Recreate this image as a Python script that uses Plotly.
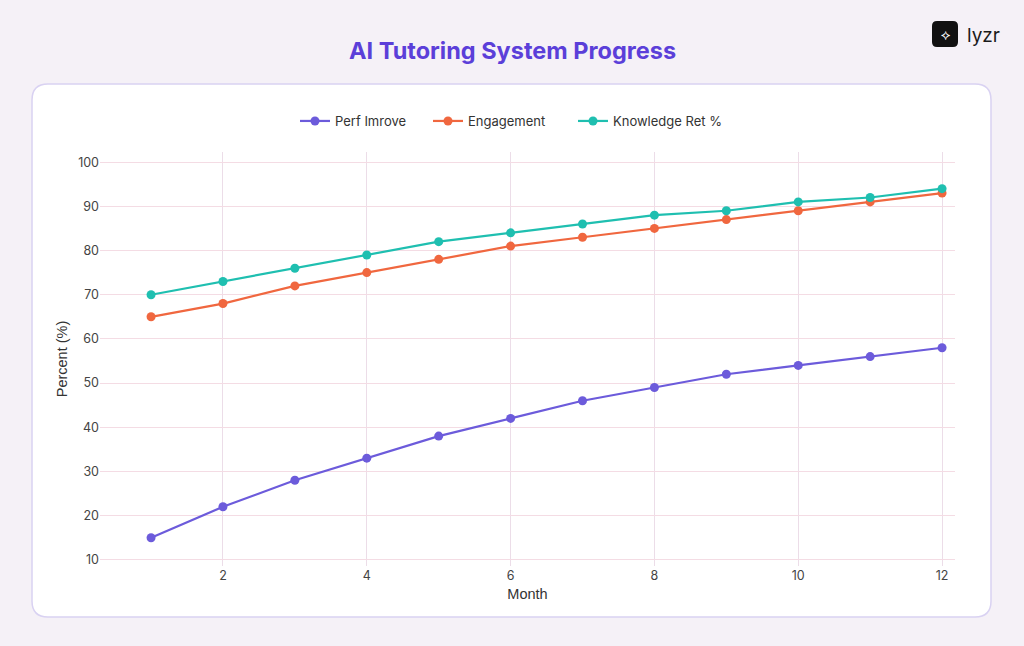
import plotly.graph_objects as go

months = list(range(1, 13))
perf = [15, 22, 28, 33, 38, 42, 46, 49, 52, 54, 56, 58]
engagement = [65, 68, 72, 75, 78, 81, 83, 85, 87, 89, 91, 93]
knowledge = [70, 73, 76, 79, 82, 84, 86, 88, 89, 91, 92, 94]
series_names = ["Perf Imrove", "Engagement", "Knowledge Ret %"]
colors = ["#6C5BDB", "#F0673F", "#1FBFB0"]
x_ticks = [2, 4, 6, 8, 10, 12]
y_ticks = [10, 20, 30, 40, 50, 60, 70, 80, 90, 100]

W, H = 1024, 646
L, R, T, B = 100, 955, 152, 566
ml, mr, mt, mb = L, W - R, T, H - B
pw, ph = R - L, B - T

def px(x):
    return (x - L) / pw

def py(y):
    return (B - y) / ph

def rounded_rect(x0, y0, x1, y1, r):
    def P(x, y):
        return f"{px(x):.5f},{py(y):.5f}"
    return (f"M {P(x0 + r, y0)} L {P(x1 - r, y0)} Q {P(x1, y0)} {P(x1, y0 + r)} "
            f"L {P(x1, y1 - r)} Q {P(x1, y1)} {P(x1 - r, y1)} "
            f"L {P(x0 + r, y1)} Q {P(x0, y1)} {P(x0, y1 - r)} "
            f"L {P(x0, y0 + r)} Q {P(x0, y0)} {P(x0 + r, y0)} Z")

legend_ids = ["legend", "legend2", "legend3"]
legend_px = [300, 433, 578]  # left edge of each legend symbol (pixels)

fig = go.Figure()
for name, vals, c, lg in zip(series_names, [perf, engagement, knowledge], colors, legend_ids):
    fig.add_trace(go.Scatter(x=months, y=vals, name=name, mode="lines+markers",
                             line=dict(color=c, width=2.2),
                             marker=dict(color=c, size=9), legend=lg))

shapes = [
    dict(type="path", xref="paper", yref="paper", path=rounded_rect(32, 84, 991, 617, 16),
         fillcolor="#FFFFFF", line=dict(color="#D9D2F2", width=1.5), layer="below"),
    dict(type="path", xref="paper", yref="paper", path=rounded_rect(932, 21, 958, 47, 5),
         fillcolor="#111111", line=dict(width=0), layer="above"),
]

legend_common = dict(orientation="h", xanchor="left", y=py(121), yanchor="middle",
                     font=dict(size=13, color="#333333"), bgcolor="rgba(0,0,0,0)")
legends = {}
for lg, xp in zip(legend_ids, legend_px):
    legends[lg] = dict(legend_common, x=px(xp - 5))

title_font = dict(size=14.5, color="#333333", family="Arial, Liberation Sans, sans-serif")

fig.update_layout(
    width=W, height=H,
    margin=dict(l=ml, r=mr, t=mt, b=mb),
    paper_bgcolor="#F5F1F7",
    plot_bgcolor="rgba(0,0,0,0)",
    font=dict(family="Inter, Roboto, sans-serif", color="#333333", size=12),
    shapes=shapes,
    showlegend=True,
    xaxis=dict(range=[0.29, 12.18], tickvals=x_ticks, showgrid=True,
               gridcolor="#ECDDE8", gridwidth=1, zeroline=False, showline=False,
               ticks="", tickfont=dict(size=12.5, color="#444444"),
               title=dict(text="Month", font=title_font, standoff=7)),
    yaxis=dict(range=[8.6, 102.3], tickvals=y_ticks, showgrid=True,
               gridcolor="#F4DCE4", gridwidth=1, zeroline=False, showline=False,
               ticks="", tickfont=dict(size=12.5, color="#444444"),
               title=dict(text="Percent (%)", font=title_font, standoff=7)),
    annotations=[
        dict(text="<b>AI Tutoring System Progress</b>", xref="paper", yref="paper",
             x=px(512), y=py(50), xanchor="center", yanchor="middle", showarrow=False,
             font=dict(size=23.5, color="#5B3FD9", family="Inter, Roboto, sans-serif")),
        dict(text="lyzr", xref="paper", yref="paper", x=px(965), y=py(35),
             xanchor="left", yanchor="middle", showarrow=False,
             font=dict(size=19, color="#1A1A1A", family="Inter, Roboto, sans-serif")),
        dict(text="⟡", xref="paper", yref="paper", x=px(945), y=py(34),
             xanchor="center", yanchor="middle", showarrow=False,
             font=dict(size=14, color="#FFFFFF")),
    ],
    **legends,
)

fig.write_html("out.html", config={"displayModeBar": False},
               post_script="document.body.style.margin='0';document.body.style.background='#F5F1F7';")
